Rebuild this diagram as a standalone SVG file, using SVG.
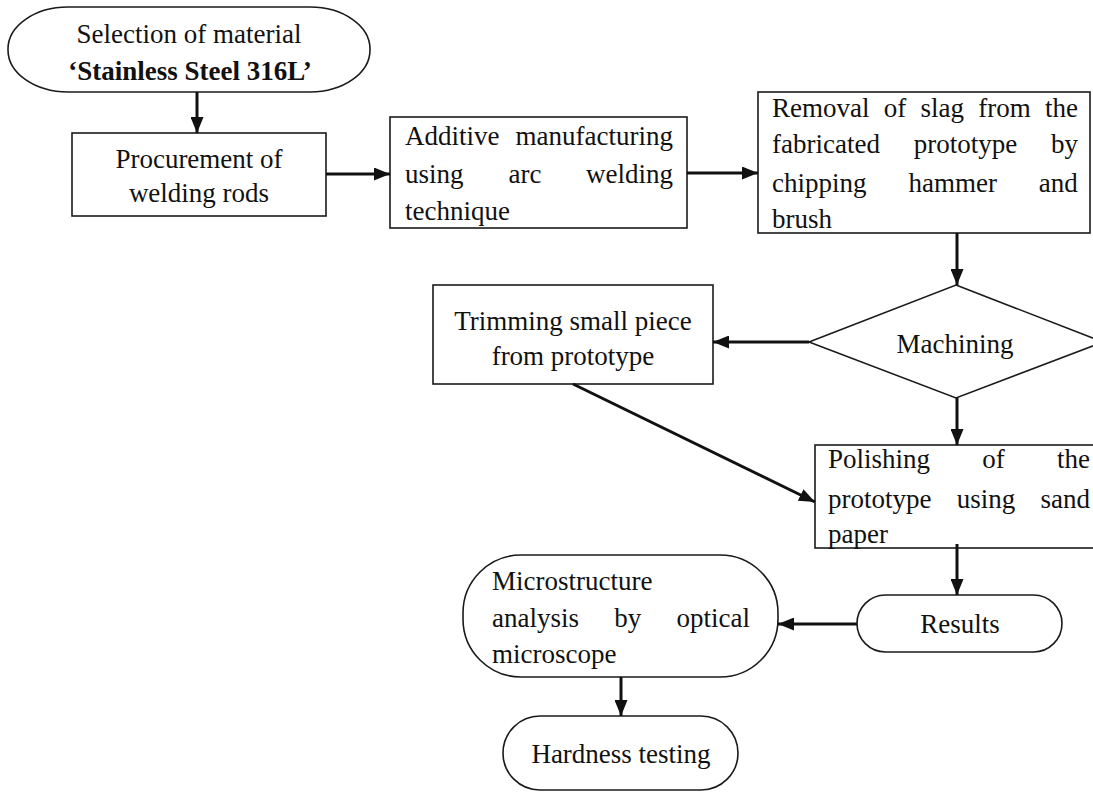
<svg xmlns="http://www.w3.org/2000/svg" width="1093" height="793" viewBox="0 0 1093 793">
<style>
.box{fill:#fff;stroke:#1a1a1a;stroke-width:1.6}
.t{font-family:"Liberation Serif","Times New Roman",serif;font-size:27px;fill:#111}
.c{text-anchor:middle}
.e{text-anchor:end}
.b{font-weight:bold}
.conn line{stroke:#111;stroke-width:3;marker-end:url(#ah)}
</style>
<defs>
<marker id="ah" markerUnits="userSpaceOnUse" markerWidth="16" markerHeight="13" refX="16" refY="6.5" orient="auto">
<path d="M0,0 L16,6.5 L0,13 z" fill="#111"/>
</marker>
</defs>
<rect width="1093" height="793" fill="#fff"/>

<g id="selection">
<rect class="box" x="8" y="7" width="362" height="85" rx="60" ry="42"/>
<text class="t c" x="189" y="43">Selection of material</text>
<text class="t c b" x="190" y="80">‘Stainless Steel 316L’</text>
</g>

<g id="procurement">
<rect class="box" x="72" y="133" width="254" height="83"/>
<text class="t c" x="199" y="168">Procurement of</text>
<text class="t c" x="199" y="202">welding rods</text>
</g>

<g id="additive">
<rect class="box" x="390" y="117" width="297" height="111"/>
<text class="t" x="405" y="145">Additive</text>
<text class="t e" x="673" y="145">manufacturing</text>
<text class="t" x="405" y="183">using</text>
<text class="t c" x="525" y="183">arc</text>
<text class="t e" x="673" y="183">welding</text>
<text class="t" x="405" y="220">technique</text>
</g>

<g id="removal">
<rect class="box" x="758" y="92" width="332" height="141"/>
<text class="t" x="772" y="117" word-spacing="7.5">Removal of slag from the</text>
<text class="t" x="772" y="153" word-spacing="27">fabricated prototype by</text>
<text class="t" x="772" y="192" word-spacing="35.2">chipping hammer and</text>
<text class="t" x="772" y="228">brush</text>
</g>

<g id="machining">
<polygon class="box" points="956,285 1103,342 956,398 809,342"/>
<text class="t c" x="955" y="353">Machining</text>
</g>

<g id="trimming">
<rect class="box" x="433" y="285" width="280" height="99"/>
<text class="t c" x="573" y="330">Trimming small piece</text>
<text class="t c" x="573" y="365">from prototype</text>
</g>

<g id="polishing">
<rect class="box" x="815" y="445" width="290" height="103"/>
<text class="t" x="828" y="468" word-spacing="45.5">Polishing of the</text>
<text class="t" x="828" y="508" word-spacing="18.5">prototype using sand</text>
<text class="t" x="828" y="543">paper</text>
</g>

<g id="results">
<rect class="box" x="857" y="595" width="205" height="57" rx="28.5"/>
<text class="t c" x="960" y="633">Results</text>
</g>

<g id="microstructure">
<rect class="box" x="463" y="555" width="315" height="122" rx="58"/>
<text class="t" x="492" y="590">Microstructure</text>
<text class="t" x="492" y="627" word-spacing="28.5">analysis by optical</text>
<text class="t" x="492" y="663">microscope</text>
</g>

<g id="hardness">
<rect class="box" x="503" y="716" width="235" height="74" rx="37"/>
<text class="t c" x="621" y="763">Hardness testing</text>
</g>

<g id="connectors" class="conn">
<line x1="197" y1="92" x2="197" y2="133"/>
<line x1="326" y1="174" x2="390" y2="174"/>
<line x1="687" y1="173" x2="758" y2="173"/>
<line x1="957" y1="233" x2="957" y2="285"/>
<line x1="809" y1="342" x2="713" y2="342"/>
<line x1="957" y1="398" x2="957" y2="445"/>
<line x1="573" y1="384" x2="815" y2="502"/>
<line x1="957" y1="544" x2="957" y2="595"/>
<line x1="857" y1="624" x2="778" y2="624"/>
<line x1="621" y1="677" x2="621" y2="716"/>
</g>
</svg>
